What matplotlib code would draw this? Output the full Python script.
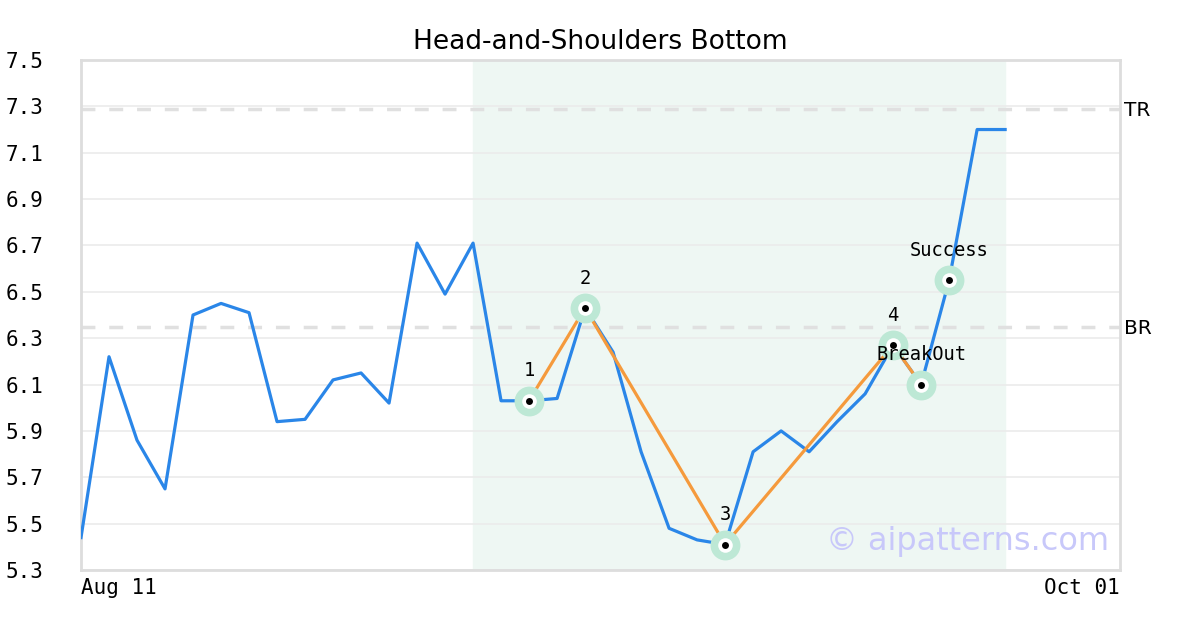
import numpy as np
import matplotlib.pyplot as plt

# price series (one value per trading day)
prices = [5.44, 6.22, 5.86, 5.65, 6.40, 6.45, 6.41, 5.94, 5.95, 6.12,
          6.15, 6.02, 6.71, 6.49, 6.71, 6.03, 6.03, 6.04, 6.43, 6.24,
          5.81, 5.48, 5.43, 5.41, 5.81, 5.90, 5.81, 5.94, 6.06, 6.27,
          6.10, 6.55, 7.20, 7.20]

# pattern points
pt_idx = [16, 18, 23, 29, 30, 31]
pt_val = [6.03, 6.43, 5.41, 6.27, 6.10, 6.55]
pt_lab = ['1', '2', '3', '4', 'BreakOut', 'Success']
n_orange = 5  # orange line joins 1..BreakOut

top_res = 7.29
bot_res = 6.35
shade_from, shade_to = 14, 33
x_labels = ['Aug 11', 'Oct 01']
x_label_pos = [0, 37.1]
y_ticks = [5.3, 5.5, 5.7, 5.9, 6.1, 6.3, 6.5, 6.7, 6.9, 7.1, 7.3, 7.5]

blue = '#2a86e8'
orange = '#f59a3c'
halo = '#bde8d5'

fig = plt.figure(figsize=(12, 6.3), dpi=100, facecolor='white')
ax = fig.add_axes([0.0675, 0.0952, 0.8658, 0.8096])

x = np.arange(len(prices))
ax.axvspan(shade_from, shade_to, color='#eef7f3', zorder=0)

for yt in y_ticks:
    ax.axhline(yt, color='#ebebeb', lw=1.2, zorder=1)
ax.axhline(top_res, color='#e0e0e0', lw=2.5, ls=(0, (4, 4)), zorder=1)
ax.axhline(bot_res, color='#e0e0e0', lw=2.5, ls=(0, (4, 4)), zorder=1)

ax.plot(x, prices, color=blue, lw=2.3, zorder=3)
ax.plot(pt_idx[:n_orange], pt_val[:n_orange], color=orange, lw=2.3, zorder=4)

ax.plot(pt_idx, pt_val, 'o', ms=21.5, color=halo, mec='none', zorder=5)
ax.plot(pt_idx, pt_val, 'o', ms=10.5, color='white', mec='none', zorder=6)
ax.plot(pt_idx, pt_val, 'o', ms=5, color='black', mec='none', zorder=7)

for xi, yi, lab in zip(pt_idx, pt_val, pt_lab):
    ax.annotate(lab, (xi, yi), xytext=(0, 21.5), textcoords='offset points',
                ha='center', va='center', fontsize=13.5, family='DejaVu Sans Mono', zorder=8)

ax.text(1.004, top_res, 'TR', transform=ax.get_yaxis_transform(), va='center_baseline',
        ha='left', fontsize=14.5)
ax.text(1.004, bot_res, 'BR', transform=ax.get_yaxis_transform(), va='center_baseline',
        ha='left', fontsize=14.5)

ax.text(0.99, 0.055, '\u00a9 aipatterns.com', transform=ax.transAxes, ha='right',
        va='center', fontsize=23, color='#c8c8fa', zorder=2)

ax.set_xlim(0, 37.1)
ax.set_ylim(5.3, 7.5)
ax.set_yticks(y_ticks)
ax.set_yticklabels(['%.1f' % v for v in y_ticks], family='DejaVu Sans Mono', fontsize=15)
ax.set_xticks(x_label_pos)
xt = ax.set_xticklabels(x_labels, family='DejaVu Sans Mono', fontsize=15)
xt[0].set_ha('left')
xt[1].set_ha('right')
ax.tick_params(axis='both', length=0)
ax.tick_params(axis='y', pad=27)
ax.tick_params(axis='x', pad=6)
for s in ax.spines.values():
    s.set_color('#dddddd')
    s.set_linewidth(2)

ax.set_title('Head-and-Shoulders Bottom', fontsize=19, pad=8)

fig.savefig('out.png', dpi=100)
